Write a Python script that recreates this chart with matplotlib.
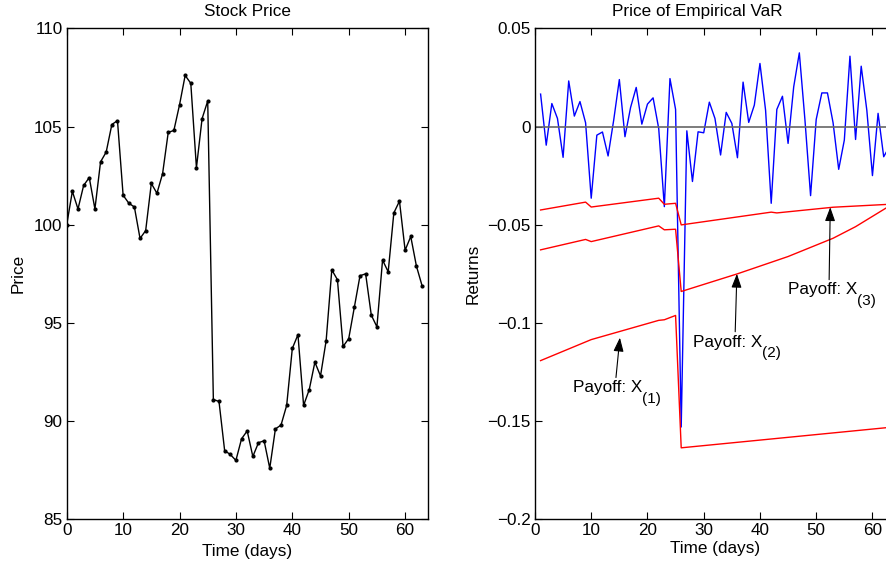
import matplotlib
matplotlib.use('Agg')
import matplotlib.pyplot as plt

plt.rcParams['font.family'] = 'Liberation Sans'
plt.rcParams['font.size'] = 12.3

# stock price, one point per day
days = list(range(64))
price = [100.0, 101.7, 100.8, 102.0, 102.4, 100.8, 103.2, 103.7, 105.1, 105.3,
         101.5, 101.1, 100.9, 99.3, 99.7, 102.1, 101.6, 102.6, 104.7, 104.8,
         106.1, 107.6, 107.2, 102.9, 105.4, 106.3, 91.1, 91.0, 88.5, 88.3,
         88.0, 89.1, 89.5, 88.2, 88.9, 89.0, 87.6, 89.6, 89.8, 90.8,
         93.7, 94.4, 90.8, 91.6, 93.0, 92.3, 94.1, 97.7, 97.2, 93.8,
         94.2, 95.8, 97.4, 97.5, 95.4, 94.8, 98.2, 97.6, 100.6, 101.2,
         98.7, 99.4, 97.9, 96.9]

# daily returns (blue)
ret_days = list(range(1, 64))
returns = [0.0165, -0.0095, 0.0117, 0.0041, -0.0157, 0.0232, 0.0053, 0.0127, 0.0019, -0.0365,
           -0.0044, -0.0028, -0.0150, 0.0033, 0.0239, -0.0052, 0.0097, 0.0199, 0.0012, 0.0114,
           0.0146, -0.0010, -0.0408, 0.0244, 0.0087, -0.1530, -0.0022, -0.0280, -0.0027, -0.0032,
           0.0124, 0.0041, -0.0145, 0.0072, 0.0016, -0.0159, 0.0226, 0.0021, 0.0109, 0.0321,
           0.0083, -0.0391, 0.0087, 0.0154, -0.0086, 0.0202, 0.0375, 0.0033, -0.0352, 0.0036,
           0.0171, 0.0171, 0.0019, -0.0218, -0.0069, 0.0358, -0.0066, 0.0307, 0.0083, -0.0250,
           0.0067, -0.0154, -0.0103]

# payoff curves (red), read at the corners of each line
x1_days = [1, 10, 22, 23, 25, 26, 63]
x1_vals = [-0.1192, -0.1085, -0.0987, -0.0984, -0.0962, -0.1636, -0.1532]
x2_days = [1, 9, 10, 22, 23, 25, 26, 36, 45, 53, 57, 63]
x2_vals = [-0.0628, -0.0575, -0.0586, -0.0506, -0.0526, -0.0523, -0.0840, -0.0750,
           -0.0662, -0.0569, -0.0510, -0.0405]
x3_days = [1, 9, 10, 22, 23, 25, 26, 42, 43, 53, 63]
x3_vals = [-0.0425, -0.0385, -0.0410, -0.0365, -0.0396, -0.0391, -0.0501, -0.0436,
           -0.0440, -0.0411, -0.0396]

left_ticks = [85, 90, 95, 100, 105, 110]
right_ticks = [-0.2, -0.15, -0.1, -0.05, 0, 0.05]
time_ticks = [0, 10, 20, 30, 40, 50, 60]

fig = plt.figure(figsize=(8.86, 5.73), dpi=100)
ax1 = fig.add_axes([0.0753, 0.0937, 0.4074, 0.8569])
ax2 = fig.add_axes([0.6038, 0.0937, 0.4063, 0.8569])

ax1.plot(days, price, color='k', lw=1.0, marker='o', markersize=2.0)
ax1.set_xlim(0, 64)
ax1.set_ylim(85, 110)
ax1.set_yticks(left_ticks)
ax1.set_xticks(time_ticks)
ax1.set_title('Stock Price', fontsize=12.3, pad=9)
ax1.set_xlabel('Time (days)', labelpad=4)
ax1.set_ylabel('Price', labelpad=6)

ax2.plot(ret_days, returns, color='b', lw=1.0)
ax2.axhline(0, color=(0.4, 0.4, 0.4), lw=1.2)
ax2.plot(x1_days, x1_vals, color='r', lw=1.0)
ax2.plot(x2_days, x2_vals, color='r', lw=1.0)
ax2.plot(x3_days, x3_vals, color='r', lw=1.0)
ax2.set_xlim(0, 64)
ax2.set_ylim(-0.2, 0.05)
ax2.set_xticks(time_ticks)
ax2.set_yticks(right_ticks)
ax2.set_yticklabels(['{:g}'.format(v).replace('-', '\u2212') for v in right_ticks])
ax2.set_title('Price of Empirical VaR', fontsize=12.3, pad=9)
ax2.title.set_x(0.45)
ax2.set_xlabel('Time (days)', labelpad=1.5)
ax2.set_ylabel('Returns', labelpad=5)

arrow = dict(arrowstyle='-|>,head_length=0.6,head_width=0.22', color='k', lw=0.8,
             mutation_scale=14, shrinkA=0, shrinkB=0)
ax2.annotate('', xy=(15.1, -0.1075), xytext=(14.4, -0.1278), arrowprops=arrow)
ax2.annotate('', xy=(35.9, -0.0750), xytext=(35.6, -0.1045), arrowprops=arrow)
ax2.annotate('', xy=(52.5, -0.0411), xytext=(52.3, -0.0780), arrowprops=arrow)

# labels, with the order index set low like a subscript
ax2.text(6.7, -0.1327, 'Payoff: X', ha='left', va='center')
ax2.text(19.0, -0.1385, '(1)', ha='left', va='center', fontsize=11)
ax2.text(28.1, -0.1098, 'Payoff: X', ha='left', va='center')
ax2.text(40.4, -0.1155, '(2)', ha='left', va='center', fontsize=11)
ax2.text(44.9, -0.0831, 'Payoff: X', ha='left', va='center')
ax2.text(57.3, -0.0889, '(3)', ha='left', va='center', fontsize=11)

for ax in (ax1, ax2):
    ax.tick_params(direction='in', length=5, width=0.8, top=True, right=True, pad=3)
    for s in ax.spines.values():
        s.set_linewidth(1.0)

fig.savefig('out.png', dpi=100)
